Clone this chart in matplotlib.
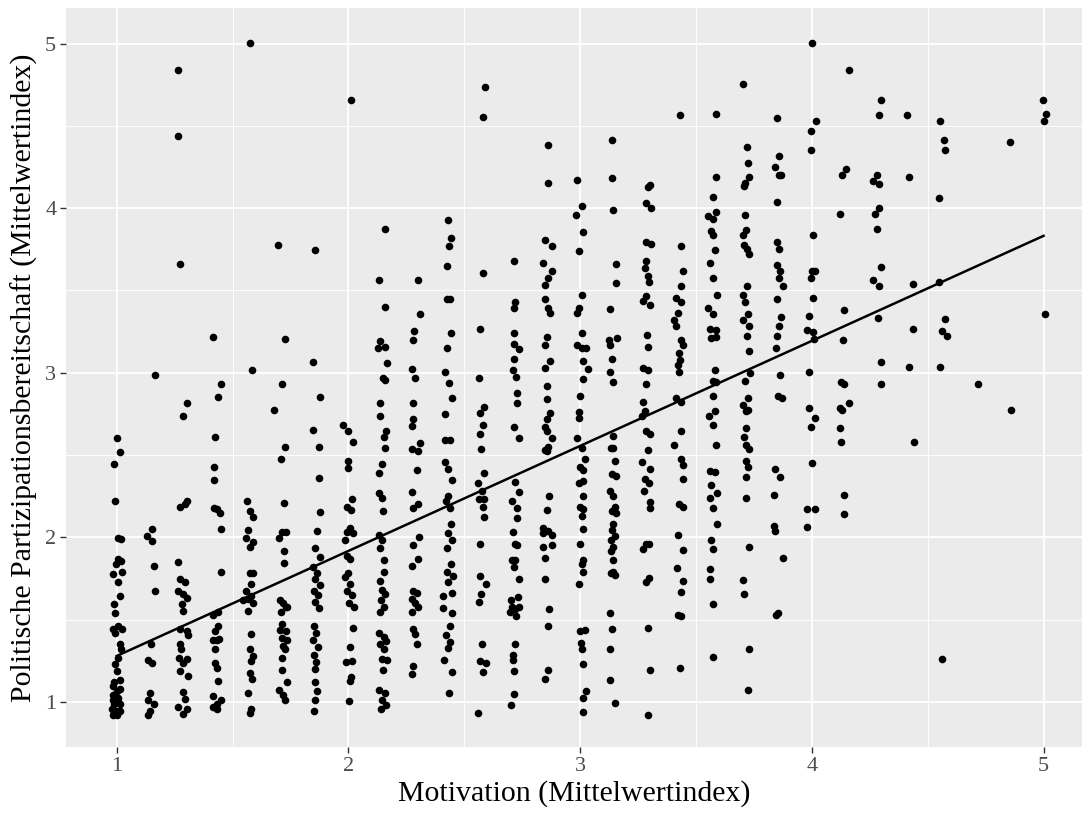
import numpy as np
import matplotlib
matplotlib.use("Agg")
import matplotlib.pyplot as plt
from matplotlib.ticker import MultipleLocator

# Motivation levels (x categories, 1 + k/7)
levels = [1 + k / 7 for k in range(29)]

# each column: (x jitter, y value) pairs
col00 = [(0, 2.605), (.014, 2.519), (-.012, 2.448), (-.006, 2.222), (.007, 1.997), (.017, 1.99),
         (.007, 1.871), (.017, 1.855), (-.003, 1.836), (-.017, 1.78), (.022, 1.79), (.007, 1.73),
         (.014, 1.647), (-.012, 1.593), (-.007, 1.54), (-.014, 1.445), (.007, 1.46), (.022, 1.445),
         (-.007, 1.418), (.014, 1.35), (.017, 1.32), (.007, 1.27), (-.007, 1.23), (0, 1.19),
         (.014, 1.135), (-.014, 1.095), (0, 1.068), (.014, 1.08), (-.017, 1.041), (.007, 1.027),
         (-.012, .987), (.012, .987), (-.022, .96), (-.003, .946), (.014, .946), (-.014, .92),
         (.003, .92), (-.01, 1.12), (.004, 1.0), (-.016, 1.01)]
col01 = [(.023, 2.988), (.009, 2.052), (-.013, 2.011), (.009, 1.979), (.016, 1.828), (.023, 1.674),
         (.004, 1.35), (-.006, 1.256), (.009, 1.235), (.001, 1.054), (-.006, 1.014), (.016, .987),
         (.001, .946), (-.006, .92)]
col02 = [(-.02, 4.838), (-.02, 4.439), (-.013, 3.662), (.019, 2.815), (-.001, 2.74), (.019, 2.222),
         (-.013, 2.187), (.009, 2.206), (-.02, 1.85), (-.013, 1.747), (.009, 1.728), (-.02, 1.674),
         (.001, 1.655), (.016, 1.634), (-.006, 1.593), (-.001, 1.553), (-.013, 1.445), (.019, 1.432),
         (.023, 1.405), (-.013, 1.35), (-.01, 1.32), (-.016, 1.27), (.019, 1.26), (.001, 1.235),
         (-.013, 1.19), (.023, 1.16), (-.001, 1.06), (.009, 1.02), (-.02, .97), (.019, .96), (.001, .93)]
col03 = [(-.014, 3.22), (.02, 2.929), (.01, 2.853), (-.004, 2.613), (-.009, 2.43), (-.009, 2.349),
         (-.009, 2.18), (.006, 2.173), (.017, 2.146), (.02, 2.052), (.02, 1.788), (-.012, 1.531),
         (.01, 1.547), (.01, 1.459), (-.004, 1.432), (-.014, 1.378), (.003, 1.378), (.014, 1.386),
         (-.004, 1.32), (-.004, 1.24), (.003, 1.205), (.01, 1.125), (-.014, 1.035), (.02, 1.014),
         (.003, .987), (-.012, .973), (.006, .96)]
col04 = [(.003, 5.005), (.014, 3.02), (-.009, 2.222), (.003, 2.16), (.017, 2.125), (-.004, 2.044),
         (-.014, 1.998), (.017, 1.97), (.003, 1.944), (.003, 1.782), (.017, 1.782), (.01, 1.72),
         (-.012, 1.674), (.01, 1.647), (-.026, 1.62), (-.004, 1.626), (.017, 1.6), (-.004, 1.553),
         (.01, 1.413), (.003, 1.32), (.017, 1.278), (.01, 1.25), (.003, 1.175), (.014, 1.143),
         (-.004, 1.054), (.01, .96), (.003, .933)]
col05 = [(-.017, 3.778), (.012, 3.206), (.001, 2.929), (-.036, 2.775), (.012, 2.551), (-.007, 2.475),
         (.007, 2.208), (.001, 2.033), (.016, 2.033), (-.013, 1.998), (.007, 1.92), (.007, 1.844),
         (-.01, 1.62), (.004, 1.6), (.016, 1.58), (-.007, 1.547), (.022, 1.575), (.001, 1.477),
         (-.01, 1.44), (.016, 1.432), (-.003, 1.39), (.022, 1.378), (.004, 1.343), (.012, 1.325),
         (-.003, 1.27), (.001, 1.197), (.019, 1.122), (-.013, 1.073), (.004, 1.041), (.012, 1.014)]
col06 = [(-.003, 3.746), (-.01, 3.064), (.022, 2.853), (-.01, 2.653), (.016, 2.551), (.016, 2.362),
         (.022, 2.152), (.007, 2.038), (-.003, 1.936), (.022, 1.882), (-.01, 1.82), (.007, 1.785),
         (-.003, 1.745), (.019, 1.712), (-.007, 1.677), (.012, 1.65), (-.003, 1.61), (.016, 1.57),
         (-.007, 1.459), (.004, 1.418), (-.01, 1.378), (.012, 1.337), (-.007, 1.283), (.004, 1.243),
         (-.003, 1.2), (-.003, 1.12), (.007, 1.067), (-.003, 1.014), (-.007, .946)]
col07 = [(.01, 4.66), (-.022, 2.68), (0, 2.645), (.019, 2.578), (-.004, 2.465), (-.004, 2.42),
         (.014, 2.232), (-.007, 2.187), (.01, 2.168), (.007, 2.06), (-.007, 2.033), (.019, 2.025),
         (-.014, 1.985), (-.007, 1.89), (.007, 1.871), (0, 1.785), (-.014, 1.76), (.007, 1.72),
         (-.007, 1.677), (.014, 1.65), (.004, 1.604), (.022, 1.575), (.019, 1.45), (.007, 1.337),
         (-.01, 1.243), (.014, 1.25), (.01, 1.153), (.007, 1.125), (.004, 1.008)]
col08 = [(.016, 3.873), (-.009, 3.562), (.016, 3.4), (-.006, 3.193), (.016, 3.158), (-.017, 3.15),
         (.023, 3.058), (.006, 2.97), (.016, 2.955), (-.006, 2.815), (-.006, 2.735), (.02, 2.645),
         (.009, 2.61), (.016, 2.545), (.001, 2.448), (-.009, 2.389), (-.013, 2.268), (.001, 2.24),
         (.006, 2.16), (-.013, 2.017), (.001, 1.985), (-.006, 1.936), (.009, 1.863), (.012, 1.79),
         (-.006, 1.736), (.001, 1.682), (.016, 1.655), (-.003, 1.62), (.009, 1.58), (-.006, 1.547),
         (-.009, 1.418), (.009, 1.397), (.02, 1.37), (-.006, 1.35), (.009, 1.325), (.001, 1.262),
         (.023, 1.256), (.006, 1.197), (-.013, 1.073), (.016, 1.054), (.001, 1.014), (.02, .98),
         (-.003, .96)]
col09 = [(.016, 3.562), (.023, 3.355), (-.003, 3.252), (-.009, 3.2), (-.013, 3.023), (.001, 2.969),
         (-.006, 2.815), (-.009, 2.718), (-.013, 2.678), (.023, 2.572), (-.013, 2.537), (.016, 2.524),
         (.009, 2.408), (-.013, 2.273), (.016, 2.206), (-.006, 2.18), (.02, 2.005), (-.006, 1.952),
         (.016, 1.872), (-.013, 1.828), (-.006, 1.677), (.009, 1.663), (-.013, 1.623), (.001, 1.602),
         (.016, 1.575), (-.013, 1.547), (-.006, 1.445), (.001, 1.413), (.009, 1.35), (-.006, 1.216),
         (-.013, 1.17)]
col10 = [(.003, 3.927), (.013, 3.82), (.007, 3.77), (-.004, 3.65), (-.004, 3.449), (.01, 3.449),
         (.013, 3.24), (-.004, 3.15), (-.012, 3.004), (.007, 2.94), (.017, 2.85), (-.012, 2.75),
         (-.012, 2.59), (.01, 2.59), (-.012, 2.46), (.003, 2.415), (.017, 2.35), (.003, 2.254),
         (-.007, 2.222), (.01, 2.18), (.013, 2.08), (.003, 2.025), (.017, 1.985), (-.004, 1.936),
         (.013, 1.836), (-.004, 1.79), (.022, 1.768), (.003, 1.728), (-.019, 1.647), (.017, 1.665),
         (-.019, 1.57), (.017, 1.54), (.01, 1.459), (-.007, 1.405), (.01, 1.365), (.003, 1.33),
         (-.016, 1.256), (.017, 1.18), (.007, 1.054)]
col11 = [(.019, 4.736), (.009, 4.555), (.009, 3.608), (-.003, 3.266), (-.01, 2.969), (.012, 2.794),
         (-.003, 2.753), (.009, 2.68), (-.003, 2.626), (0, 2.537), (.012, 2.394), (-.014, 2.33),
         (.004, 2.28), (.012, 2.232), (-.01, 2.232), (.009, 2.187), (.012, 2.125), (-.003, 1.963),
         (-.003, 1.768), (.023, 1.72), (0, 1.655), (-.01, 1.606), (.004, 1.35), (-.003, 1.25),
         (.023, 1.235), (.009, 1.18), (-.014, .933)]
col12 = [(-.001, 3.678), (.006, 3.428), (-.001, 3.393), (.001, 3.244), (.001, 3.177), (.02, 3.144),
         (.001, 3.085), (-.004, 3.015), (.01, 2.977), (.013, 2.88), (.013, 2.815), (.001, 2.672),
         (.02, 2.605), (.006, 2.335), (.02, 2.276), (-.009, 2.222), (.013, 2.18), (.013, 2.12),
         (-.004, 2.03), (.006, 1.958), (.013, 1.952), (-.009, 1.863), (.006, 1.863), (-.001, 1.82),
         (.02, 1.745), (-.013, 1.62), (.016, 1.64), (-.009, 1.575), (.006, 1.567), (-.016, 1.547),
         (.02, 1.575), (.01, 1.52), (.006, 1.35), (-.004, 1.283), (-.004, 1.256), (-.001, 1.19),
         (-.001, 1.05), (-.012, .98)]
col13 = [(.006, 4.385), (.006, 4.156), (-.009, 3.806), (.02, 3.77), (-.016, 3.67), (.02, 3.616),
         (.006, 3.576), (-.009, 3.533), (-.009, 3.446), (.006, 3.392), (.013, 3.365), (.001, 3.217),
         (-.009, 3.166), (.013, 3.07), (-.009, 3.03), (-.001, 2.92), (-.001, 2.842), (.013, 2.753),
         (-.001, 2.718), (-.009, 2.672), (-.001, 2.645), (.02, 2.605), (.006, 2.55), (-.001, 2.524),
         (-.009, 2.53), (.01, 2.254), (-.001, 2.168), (-.016, 2.06), (.006, 2.038), (-.016, 2.025),
         (.02, 2.017), (.02, 1.952), (-.016, 1.944), (-.009, 1.876), (-.009, 1.747), (.01, 1.567),
         (.006, 1.459), (.006, 1.197), (-.009, 1.143)]
col14 = [(-.012, 4.17), (.007, 4.016), (-.017, 3.959), (.014, 3.856), (-.007, 3.738), (.007, 3.473),
         (-.003, 3.392), (-.012, 3.365), (.007, 3.244), (-.012, 3.166), (.007, 3.15), (.026, 3.15),
         (.014, 3.07), (.032, 3.023), (.014, 2.96), (0, 2.861), (-.007, 2.761), (-.007, 2.726),
         (-.012, 2.605), (.007, 2.545), (.022, 2.475), (0, 2.43), (.014, 2.41), (-.007, 2.33),
         (.012, 2.34), (.014, 2.254), (0, 2.187), (.014, 2.173), (.007, 2.133), (.014, 2.052),
         (0, 1.958), (.014, 1.863), (.007, 1.836), (.014, 1.79), (-.007, 1.72), (0, 1.432),
         (.022, 1.44), (.003, 1.36), (.007, 1.325), (.012, 1.23), (.026, 1.068), (.012, 1.027),
         (.012, .938)]
col15 = [(-.004, 4.412), (-.004, 4.183), (-.001, 3.986), (.01, 3.662), (.01, 3.543), (-.013, 3.387),
         (-.019, 3.198), (-.016, 3.166), (.016, 3.212), (-.004, 3.082), (-.013, 3.004), (.001, 2.942),
         (-.001, 2.619), (-.009, 2.545), (.001, 2.545), (.006, 2.465), (-.004, 2.384), (.01, 2.376),
         (-.016, 2.281), (-.001, 2.254), (.006, 2.187), (-.004, 2.16), (.013, 2.146), (-.001, 2.08),
         (-.004, 2.044), (.006, 2.011), (-.009, 1.985), (.001, 1.944), (-.009, 1.917), (-.001, 1.863),
         (.001, 1.79), (.006, 1.774), (-.009, 1.782), (-.013, 1.54), (-.004, 1.445), (-.013, 1.325),
         (-.013, 1.135), (.006, .995)]
col16 = [(.007, 4.13), (.014, 4.138), (0, 4.03), (.022, 4.003), (0, 3.792), (.022, 3.784),
         (0, 3.678), (-.007, 3.635), (.007, 3.59), (.012, 3.549), (0, 3.468), (-.014, 3.436),
         (.014, 3.414), (.003, 3.23), (.007, 3.158), (-.014, 3.03), (.007, 3.02), (-.003, 2.93),
         (-.014, 2.82), (-.007, 2.77), (-.017, 2.74), (0, 2.645), (.014, 2.626), (.007, 2.53),
         (-.017, 2.457), (.014, 2.416), (-.007, 2.357), (.012, 2.33), (-.012, 2.28), (.014, 2.214),
         (.014, 2.18), (0, 1.958), (.012, 1.963), (-.014, 1.93), (.012, 1.755), (-.003, 1.728),
         (.007, 1.45), (.014, 1.197), (.007, .919)]
col17 = [(.003, 4.566), (.007, 3.773), (.017, 3.616), (.007, 3.527), (-.014, 3.455), (.007, 3.428),
         (-.007, 3.365), (-.022, 3.32), (-.017, 3.285), (.007, 3.198), (.014, 3.166), (-.003, 3.123),
         (.003, 3.077), (-.007, 3.05), (-.003, 3.004), (-.014, 2.848), (.007, 2.82), (.007, 2.645),
         (-.022, 2.56), (.007, 2.475), (.014, 2.438), (.014, 2.357), (-.003, 2.203), (.014, 2.187),
         (-.007, 2.017), (.014, 1.925), (-.012, 1.817), (.014, 1.736), (.007, 1.666), (-.007, 1.531),
         (.007, 1.52), (.003, 1.208)]
col18 = [(.013, 4.574), (.013, 4.191), (.004, 4.07), (-.02, 3.953), (.001, 3.932), (.013, 3.975),
         (-.006, 3.859), (.004, 3.84), (.009, 3.746), (-.013, 3.67), (.001, 3.576), (.019, 3.473),
         (-.02, 3.392), (.004, 3.36), (-.013, 3.266), (.016, 3.258), (-.006, 3.212), (.013, 3.22),
         (.009, 3.015), (.001, 2.95), (.013, 2.942), (.001, 2.861), (.009, 2.767), (-.016, 2.74),
         (.001, 2.68), (.013, 2.562), (-.013, 2.403), (.009, 2.395), (-.006, 2.32), (.019, 2.268),
         (-.01, 2.24), (.004, 2.18), (.019, 2.08), (-.006, 1.985), (.001, 1.93), (-.01, 1.81),
         (-.01, 1.747), (.001, 1.593), (.001, 1.275)]
col19 = [(-.01, 4.752), (.004, 4.369), (.009, 4.277), (.016, 4.191), (-.006, 4.137), (-.001, 4.156),
         (-.001, 3.959), (.001, 3.867), (-.01, 3.84), (-.006, 3.778), (.004, 3.751), (.016, 3.724),
         (.004, 3.53), (-.01, 3.473), (-.001, 3.428), (.009, 3.355), (-.013, 3.32), (.016, 3.285),
         (.004, 3.225), (.013, 3.13), (.019, 2.996), (-.001, 2.95), (.009, 2.848), (-.013, 2.807),
         (.001, 2.767), (.009, 2.772), (.001, 2.664), (-.006, 2.61), (.001, 2.564), (.016, 2.537),
         (.001, 2.465), (.009, 2.43), (.001, 2.367), (.001, 2.24), (.013, 1.944), (-.01, 1.742),
         (-.006, 1.655), (.013, 1.324), (.009, 1.076)]
col20 = [(-.009, 4.547), (0, 4.318), (-.014, 4.25), (0, 4.2), (.01, 4.2), (-.009, 4.04),
         (-.009, 3.792), (0, 3.75), (-.009, 3.657), (.006, 3.616), (0, 3.576), (.017, 3.527),
         (-.009, 3.446), (.01, 3.338), (0, 3.285), (-.009, 3.225), (-.012, 3.15), (.006, 2.988),
         (-.004, 2.861), (.014, 2.848), (-.014, 2.416), (.006, 2.367), (-.019, 2.26), (-.019, 2.07),
         (-.014, 2.038), (.017, 1.876), (-.004, 1.54), (-.012, 1.526)]
col21 = [(0, 5.005), (.017, 4.528), (-.004, 4.47), (-.004, 4.353), (.006, 3.84), (0, 3.616),
         (.014, 3.616), (-.004, 3.576), (.006, 3.455), (-.012, 3.347), (-.019, 3.258), (.003, 3.247),
         (.01, 3.204), (-.012, 3.004), (-.012, 2.788), (.014, 2.726), (-.004, 2.672), (0, 2.45),
         (-.019, 2.173), (.014, 2.173), (-.019, 2.065)]
col22 = [(.016, 4.838), (.004, 4.237), (-.013, 4.2), (-.022, 3.967), (-.003, 3.382), (-.007, 3.198),
         (-.017, 2.942), (-.003, 2.929), (-.022, 2.788), (-.013, 2.772), (.016, 2.815), (-.022, 2.664),
         (-.017, 2.578), (-.003, 2.26), (-.003, 2.141)]
col23 = [(.013, 4.66), (.006, 4.566), (-.006, 4.2), (-.02, 4.164), (.006, 4.148), (.003, 4.003),
         (-.012, 3.967), (-.006, 3.873), (.013, 3.643), (-.02, 3.562), (.003, 3.527), (-.001, 3.333),
         (.013, 3.064), (.013, 2.934)]
col24 = [(-.017, 4.566), (-.01, 4.191), (.007, 3.54), (.007, 3.266), (-.01, 3.036), (.012, 2.578)]
col25 = [(-.017, 4.528), (-.003, 4.412), (.004, 4.353), (-.022, 4.061), (-.024, 3.554), (.004, 3.328),
         (-.01, 3.252), (.012, 3.225), (-.017, 3.036), (-.01, 1.262)]
col26 = [(.003, 2.929)]
col27 = [(-.003, 4.404), (.001, 2.772)]
col28 = [(-.003, 4.655), (.012, 4.574), (.001, 4.528), (.006, 3.36)]

columns = [col00, col01, col02, col03, col04, col05, col06, col07, col08, col09, col10,
           col11, col12, col13, col14, col15, col16, col17, col18, col19, col20, col21,
           col22, col23, col24, col25, col26, col27, col28]

# fitted regression line (lm) endpoints
fit_x = [1.0, 5.0]
fit_y = [1.28, 3.832]

xs, ys = [], []
for base, col in zip(levels, columns):
    for dx, y in col:
        xs.append(base + dx)
        ys.append(y)

W, H = 1084, 817
fig = plt.figure(figsize=(W / 100, H / 100), dpi=100)
ax = fig.add_axes([66 / W, 1 - 747 / H, (1082 - 66) / W, (747 - 8) / H])
ax.set_facecolor("#EBEBEB")
for s in ax.spines.values():
    s.set_visible(False)

ax.set_xlim(0.781, 5.166)
ax.set_ylim(0.727, 5.216)
ax.xaxis.set_major_locator(MultipleLocator(1))
ax.yaxis.set_major_locator(MultipleLocator(1))
ax.xaxis.set_minor_locator(MultipleLocator(0.5))
ax.yaxis.set_minor_locator(MultipleLocator(0.5))
ax.grid(True, which="major", color="white", linewidth=1.3)
ax.grid(True, which="minor", color="white", linewidth=0.65)
ax.set_axisbelow(True)
ax.tick_params(which="minor", length=0)
ax.tick_params(which="major", length=4, width=1, color="#333333",
               labelcolor="#4D4D4D", labelsize=16, pad=3)
for lab in ax.get_xticklabels() + ax.get_yticklabels():
    lab.set_fontfamily("Liberation Serif")

ax.scatter(xs, ys, s=30, color="black", linewidths=0, zorder=3)
ax.plot(fit_x, fit_y, color="black", linewidth=1.8, zorder=4)

ax.set_xlabel("Motivation (Mittelwertindex)", fontsize=21.5, family="Liberation Serif",
              color="black", labelpad=3)
ax.set_ylabel("Politische Partizipationsbereitschaft (Mittelwertindex)", fontsize=21.5,
              family="Liberation Serif", color="black", labelpad=5)

fig.savefig("out.png", dpi=100)
